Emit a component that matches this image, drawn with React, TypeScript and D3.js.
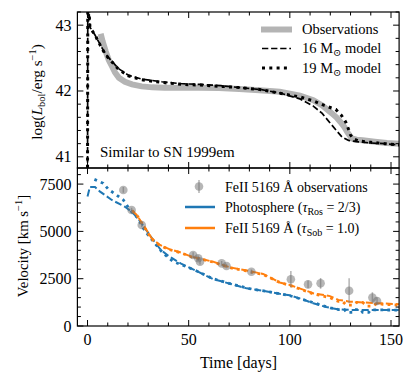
import React from 'react';
import * as d3 from 'd3';

// ---- Top panel: bolometric light curve ----
const lumObsDays = [6.5, 7.5, 9, 10.5, 12, 13.6, 15.5, 18.5, 22, 26.8, 32, 38, 46, 55, 65, 75, 85, 95, 105, 111.6, 116, 120, 123, 125, 127, 128.5, 130.6, 133, 136, 142, 148, 154];
const lumObs = [42.87, 42.75, 42.6, 42.47, 42.38, 42.28, 42.2, 42.14, 42.1, 42.07, 42.055, 42.05, 42.05, 42.05, 42.045, 42.03, 42.01, 41.99, 41.93, 41.86, 41.78, 41.68, 41.6, 41.53, 41.45, 41.37, 41.28, 41.26, 41.25, 41.23, 41.21, 41.2];

const m19Days = [0, 0.15, 0.6, 1.2, 2.2, 3.7, 6.2, 8, 10.3, 13, 15.3, 20.2, 26.8, 36.7, 46.5, 56, 66, 76, 86, 95, 105, 111.6, 117, 122.7, 125.5, 127.6, 129, 130, 131.6, 134, 140, 147, 154];
const m19Lum = [40.5, 43.7, 43.3, 42.97, 42.92, 42.85, 42.7, 42.6, 42.5, 42.41, 42.33, 42.23, 42.17, 42.13, 42.1, 42.09, 42.07, 42.05, 42.02, 41.965, 41.91, 41.85, 41.78, 41.72, 41.63, 41.53, 41.42, 41.33, 41.27, 41.24, 41.22, 41.2, 41.18];

const m16Days = [0, 0.15, 0.6, 1.2, 2.2, 3.7, 6.2, 8, 10.3, 13, 15.3, 20.2, 26.8, 36.7, 46.5, 56, 66, 76, 86, 95, 105, 111.6, 116, 120, 123, 125.8, 129, 133, 140, 147, 154];
const m16Lum = [40.5, 43.7, 43.3, 42.97, 42.92, 42.85, 42.71, 42.61, 42.51, 42.42, 42.34, 42.24, 42.18, 42.14, 42.11, 42.1, 42.08, 42.05, 42.02, 41.97, 41.88, 41.77, 41.66, 41.51, 41.4, 41.3, 41.25, 41.23, 41.21, 41.2, 41.18];

// ---- Bottom panel: velocities ----
const velObsDays = [17.7, 21.8, 26.8, 52.2, 54.7, 55.6, 66.3, 68.7, 81, 100.5, 109, 115.2, 129.3, 140.8, 143.1];
const velObs = [7190, 6130, 5340, 3750, 3580, 3400, 3310, 3170, 2870, 2470, 2200, 2255, 1865, 1500, 1320];
const velObsErr = [150, 120, 120, 150, 150, 150, 120, 120, 120, 440, 200, 280, 660, 280, 200];

const photo16Days = [0, 1.2, 3.7, 6.2, 12, 18.5, 21.8, 25, 28.4, 32.5, 36, 40, 46, 54, 62, 70, 78.6, 86.8, 95, 100, 106, 111.6, 118, 123.7, 130, 140, 154];
const photo16 = [6850, 7350, 7350, 7100, 6660, 6300, 6040, 5690, 5160, 4545, 4050, 3700, 3310, 2900, 2480, 2250, 1990, 1865, 1700, 1620, 1420, 1200, 1000, 880, 850, 850, 850];

const photo19Days = [3.4, 7.8, 10.3, 14.4, 17.7, 21, 25, 27.6, 30, 34, 37.4, 42.4, 49, 54.7, 62, 70, 80, 90, 100, 112, 120, 124, 127, 128, 131, 132, 135, 136, 139, 140, 145, 154];
const photo19 = [7750, 7540, 7225, 6920, 6660, 6130, 5690, 5160, 4800, 4280, 3840, 3400, 3134, 2870, 2500, 2250, 1980, 1800, 1600, 1220, 960, 870, 870, 720, 720, 870, 870, 720, 720, 850, 850, 840];

const fe16Days = [22, 24.3, 27.6, 31.7, 35.8, 40.7, 45.7, 51.4, 56, 62, 70.4, 78, 86.8, 95, 100, 111.6, 119.8, 124, 129.6, 144, 154];
const fe16 = [6100, 5870, 5340, 4635, 4280, 4050, 3900, 3660, 3550, 3400, 3100, 2950, 2750, 2300, 2170, 1730, 1580, 1380, 1285, 1200, 1150];

const fe19Days = [22, 24.3, 27.6, 31.7, 35.8, 40.7, 45.7, 51.4, 56, 62, 70.4, 78, 86.8, 95, 100, 111.6, 119.8, 124, 126, 128, 131, 133, 136, 138, 141, 143, 146, 154];
const fe19 = [6100, 5870, 5300, 4600, 4250, 4030, 3880, 3650, 3540, 3380, 3080, 2920, 2720, 2300, 2150, 1700, 1500, 1300, 1300, 1100, 1100, 1250, 1250, 1050, 1050, 1200, 1150, 1100];

const xTicks = [0, 50, 100, 150];
const lumTicks = [41, 42, 43];
const velTicks = [0, 2500, 5000, 7500];

const FONT = "'Liberation Serif', 'DejaVu Serif', 'Times New Roman', serif";
const BLUE = '#1f77b4';
const ORANGE = '#ff7f0e';

function zip(a: number[], b: number[]): [number, number][] {
  return a.map((d, i) => [d, b[i]]);
}

export default function App() {
  const W = 415, H = 384;
  const L = 77.4, R = 399.1, T1 = 12, B1 = 168, T2 = 168, B2 = 326;
  const x = d3.scaleLinear().domain([-5, 154]).range([L, R]);
  const yL = d3.scaleLinear().domain([40.83, 43.2]).range([B1, T1]);
  const yV = d3.scaleLinear().domain([0, 8350]).range([B2, T2]);

  const lineL = d3.line<[number, number]>().x(d => x(d[0])).y(d => yL(d[1]));
  const lineV = d3.line<[number, number]>().x(d => x(d[0])).y(d => yV(d[1]));

  const xMinor = d3.range(0, 16).map(i => i * 10).filter(v => v % 50 !== 0);
  const lumMinor = d3.range(0, 12).map(i => 41 + i * 0.2).filter(v => Math.abs(v - Math.round(v)) > 1e-6);
  const velMinor = d3.range(0, 17).map(i => i * 500).filter(v => v % 2500 !== 0);

  const MAJ = 6, MIN = 3.5;
  const axisStroke = { stroke: '#000', strokeWidth: 1 };

  const xTickMarks = (yTop: number, yBot: number, key: string) => (
    <g key={key}>
      {xTicks.map(t => (
        <g key={'M' + t}>
          <line x1={x(t)} x2={x(t)} y1={yTop} y2={yTop + MAJ} {...axisStroke} />
          <line x1={x(t)} x2={x(t)} y1={yBot} y2={yBot - MAJ} {...axisStroke} />
        </g>
      ))}
      {xMinor.map(t => (
        <g key={'m' + t}>
          <line x1={x(t)} x2={x(t)} y1={yTop} y2={yTop + MIN} {...axisStroke} />
          <line x1={x(t)} x2={x(t)} y1={yBot} y2={yBot - MIN} {...axisStroke} />
        </g>
      ))}
    </g>
  );

  const yTickMarks = (scale: d3.ScaleLinear<number, number>, major: number[], minor: number[], key: string) => (
    <g key={key}>
      {major.map(t => (
        <g key={'M' + t}>
          <line x1={L} x2={L + MAJ} y1={scale(t)} y2={scale(t)} {...axisStroke} />
          <line x1={R} x2={R - MAJ} y1={scale(t)} y2={scale(t)} {...axisStroke} />
        </g>
      ))}
      {minor.map(t => (
        <g key={'m' + t}>
          <line x1={L} x2={L + MIN} y1={scale(t)} y2={scale(t)} {...axisStroke} />
          <line x1={R} x2={R - MIN} y1={scale(t)} y2={scale(t)} {...axisStroke} />
        </g>
      ))}
    </g>
  );

  return (
    <svg width={W} height={H} style={{ position: 'absolute', left: 0, top: 0, background: '#fff', fontFamily: FONT }} fontFamily={FONT}>
      <defs>
        <clipPath id="c1"><rect x={L} y={T1} width={R - L} height={B1 - T1} /></clipPath>
        <clipPath id="c2"><rect x={L} y={T2} width={R - L} height={B2 - T2} /></clipPath>
      </defs>
      <rect x={0} y={0} width={W} height={H} fill="#fff" />

      {/* Top panel data */}
      <g clipPath="url(#c1)">
        <path d={lineL(zip(lumObsDays, lumObs)) || ''} fill="none" stroke="#b4b4b4" strokeWidth={6} />
        <path d={lineL(zip(m16Days, m16Lum)) || ''} fill="none" stroke="#000" strokeWidth={1.7} strokeDasharray="6.3 2.8" />
        <path d={lineL(zip(m19Days, m19Lum)) || ''} fill="none" stroke="#000" strokeWidth={3} strokeDasharray="3 4.3" />
      </g>

      {/* Bottom panel data */}
      <g clipPath="url(#c2)">
        <path d={lineV(zip(photo16Days, photo16)) || ''} fill="none" stroke={BLUE} strokeWidth={2} strokeDasharray="7 3" />
        <path d={lineV(zip(photo19Days, photo19)) || ''} fill="none" stroke={BLUE} strokeWidth={2.8} strokeDasharray="2.8 4.2" />
        <path d={lineV(zip(fe16Days, fe16)) || ''} fill="none" stroke={ORANGE} strokeWidth={2} strokeDasharray="7 3" />
        <path d={lineV(zip(fe19Days, fe19)) || ''} fill="none" stroke={ORANGE} strokeWidth={2.8} strokeDasharray="2.8 4.2" />
        {velObsDays.map((d, i) => (
          <g key={i}>
            <line x1={x(d)} x2={x(d)} y1={yV(velObs[i] - velObsErr[i])} y2={yV(velObs[i] + velObsErr[i])} stroke="#808080" strokeOpacity={0.6} strokeWidth={1.5} />
            <circle cx={x(d)} cy={yV(velObs[i])} r={4.3} fill="#6e6e6e" fillOpacity={0.5} />
          </g>
        ))}
      </g>

      {/* Frames */}
      <rect x={L} y={T1} width={R - L} height={B1 - T1} fill="none" stroke="#000" strokeWidth={1.2} />
      <rect x={L} y={T2} width={R - L} height={B2 - T2} fill="none" stroke="#000" strokeWidth={1.2} />

      {xTickMarks(T1, B1, 'xt1')}
      {xTickMarks(T2, B2, 'xt2')}
      {yTickMarks(yL, lumTicks, lumMinor, 'yt1')}
      {yTickMarks(yV, velTicks, velMinor, 'yt2')}

      {/* Tick labels */}
      {lumTicks.map(t => (
        <text key={t} x={L - 6} y={yL(t) + 5.5} fontSize={16} textAnchor="end">{t}</text>
      ))}
      {velTicks.map(t => (
        <text key={t} x={L - 6} y={yV(t) + 5.5} fontSize={16} textAnchor="end">{t}</text>
      ))}
      {xTicks.map(t => (
        <text key={t} x={x(t)} y={B2 + 19} fontSize={16} textAnchor="middle">{t}</text>
      ))}

      {/* Axis labels */}
      <text x={238.5} y={368} fontSize={16} textAnchor="middle">Time [days]</text>
      <text transform="translate(42,92) rotate(-90)" fontSize={15.2} textAnchor="middle">
        log(<tspan fontStyle="italic">L</tspan><tspan fontSize={10.5} dy={3}>bol</tspan><tspan dy={-3}>/erg s</tspan><tspan fontSize={10.5} dy={-6}>−1</tspan><tspan dy={6}>)</tspan>
      </text>
      <text transform="translate(28,246) rotate(-90)" fontSize={14.8} textAnchor="middle">
        Velocity [km s<tspan fontSize={10.5} dy={-6}>−1</tspan><tspan dy={6}>]</tspan>
      </text>

      {/* Annotation */}
      <text x={100} y={157} fontSize={15}>Similar to SN 1999em</text>

      {/* Top legend */}
      <line x1={261} x2={292} y1={29.5} y2={29.5} stroke="#b4b4b4" strokeWidth={6} />
      <text x={302} y={34} fontSize={14.5}>Observations</text>
      <line x1={262} x2={291} y1={48.5} y2={48.5} stroke="#000" strokeWidth={1.7} strokeDasharray="6.3 2.8" />
      <text x={302} y={53} fontSize={14.5}>16 M<tspan fontSize={10} dy={3}>⊙</tspan><tspan dy={-3}> model</tspan></text>
      <line x1={262} x2={291} y1={68} y2={68} stroke="#000" strokeWidth={3} strokeDasharray="3 4.3" />
      <text x={302} y={72.5} fontSize={14.5}>19 M<tspan fontSize={10} dy={3}>⊙</tspan><tspan dy={-3}> model</tspan></text>

      {/* Bottom legend */}
      <line x1={199} x2={199} y1={180} y2={193} stroke="#808080" strokeOpacity={0.6} strokeWidth={1.5} />
      <circle cx={199} cy={186.5} r={4.3} fill="#6e6e6e" fillOpacity={0.5} />
      <text x={225} y={191.5} fontSize={14}>FeII 5169 Å observations</text>
      <line x1={185} x2={215} y1={207} y2={207} stroke={BLUE} strokeWidth={2.5} />
      <text x={225} y={212} fontSize={14}>Photosphere (<tspan fontStyle="italic">τ</tspan><tspan fontSize={10} dy={2.5}>Ros</tspan><tspan dy={-2.5}> = 2/3)</tspan></text>
      <line x1={185} x2={215} y1={228} y2={228} stroke={ORANGE} strokeWidth={2.5} />
      <text x={225} y={233} fontSize={14}>FeII 5169 Å (<tspan fontStyle="italic">τ</tspan><tspan fontSize={10} dy={2.5}>Sob</tspan><tspan dy={-2.5}> = 1.0)</tspan></text>
    </svg>
  );
}
